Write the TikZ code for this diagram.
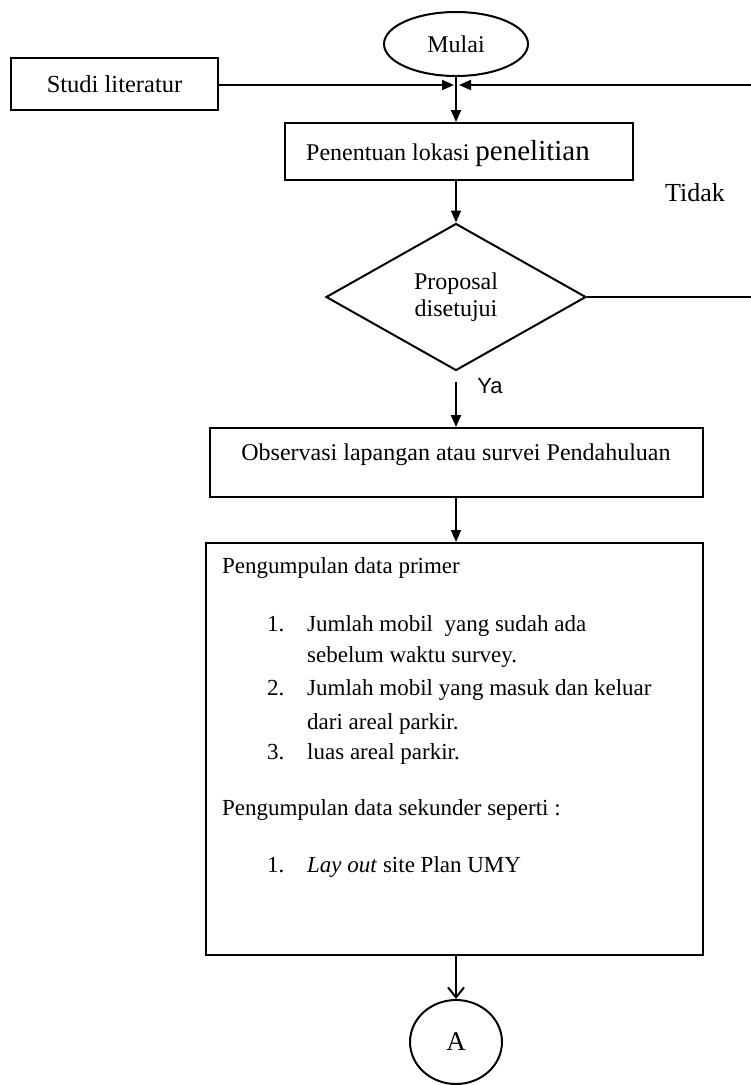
\documentclass[tikz,border=0pt]{standalone}
\usepackage{fontspec}
\setmainfont{Liberation Serif}
\newfontfamily\yafont{Liberation Sans}
\usetikzlibrary{shapes.geometric,arrows.meta}
\begin{document}
\begin{tikzpicture}[x=1pt,y=-1pt,
  box/.style={draw, line width=2pt, rectangle, inner sep=0pt},
  arr/.style={line width=2pt, -{Triangle[length=12pt,width=10pt]}},
  openarr/.style={line width=2pt, -{Straight Barb[length=10pt,width=16pt,line width=2pt]}},
  ln/.style={line width=2pt},
  txt/.style={font=\fontsize{24}{27}\selectfont, inner sep=0pt},
  lt/.style={font=\fontsize{23}{26}\selectfont, inner sep=0pt, anchor=base west},
]
\useasboundingbox (0,0) rectangle (751,1085);
% nodes
\node[draw, ellipse, line width=2pt, minimum width=144pt, minimum height=64pt, txt] (mulai) at (456,44) {Mulai};
\node[box, minimum width=207pt, minimum height=52pt, txt, font=\fontsize{24.5}{27}\selectfont] (studi) at (114.5,84) {Studi literatur};
\coordinate (J) at (456,85);
\coordinate (r2) at (753,85);
\node[box, minimum width=348pt, minimum height=57pt] (pen) at (459,151.5) {};
\node[inner sep=0pt, anchor=base] (pent) at (448,160) {{\fontsize{24}{27}\selectfont Penentuan lokasi }{\fontsize{29}{31}\selectfont penelitian}};
\node[txt, font=\fontsize{26}{28}\selectfont] (tidak) at (695,193) {Tidak};
\node[draw, diamond, line width=2pt, minimum width=260pt, minimum height=147pt, inner sep=0pt, txt, align=center] (dia) at (456,297) {Proposal\\disetujui};
\coordinate (r1) at (753,297);
\node[inner sep=0pt, font=\yafont\fontsize{22}{24}\selectfont] (ya) at (490,386) {Ya};
\node[box, minimum width=493pt, minimum height=69pt] (obs) at (456.5,462.5) {};
\node[txt, anchor=base] (obst) at (456,460) {Observasi lapangan atau survei Pendahuluan};
\node[box, minimum width=497pt, minimum height=412pt] (data) at (454.5,749) {};
\node[lt] (p1) at (222,573) {Pengumpulan data primer};
\node[lt] (n1) at (267,631) {1.};
\node[lt] (t1) at (307,631) {Jumlah mobil\ \ yang sudah ada};
\node[lt] (t1b) at (307,662) {sebelum waktu survey.};
\node[lt] (n2) at (267,695) {2.};
\node[lt] (t2) at (307,695) {Jumlah mobil yang masuk dan keluar};
\node[lt] (t2b) at (307,729) {dari areal parkir.};
\node[lt] (n3) at (267,759) {3.};
\node[lt] (t3) at (307,759) {luas areal parkir.};
\node[lt] (s1) at (222,815) {Pengumpulan data sekunder seperti :};
\node[lt] (n4) at (267,872) {1.};
\node[lt] (t4) at (307,872) {\textit{Lay out} site Plan UMY};
\node[draw, ellipse, line width=2pt, minimum width=92pt, minimum height=84pt, txt, font=\fontsize{27}{29}\selectfont] (A) at (456,1042) {A};
% connectors
\draw[arr] (mulai.south) -- (pen.north -| J);
\draw[arr] (studi.east |- J) -- ([xshift=-2pt]J);
\draw[arr] (r2) -- ([xshift=3pt]J);
\draw[arr] (pen.south -| J) -- (dia.north);
\draw[ln] (dia.east) -- (r1);
\draw[arr] ([yshift=-10pt]dia.south) -- (obs.north -| J);
\draw[arr] (obs.south -| J) -- (data.north -| J);
\draw[openarr] (data.south -| J) -- (A.north);
\end{tikzpicture}
\end{document}
